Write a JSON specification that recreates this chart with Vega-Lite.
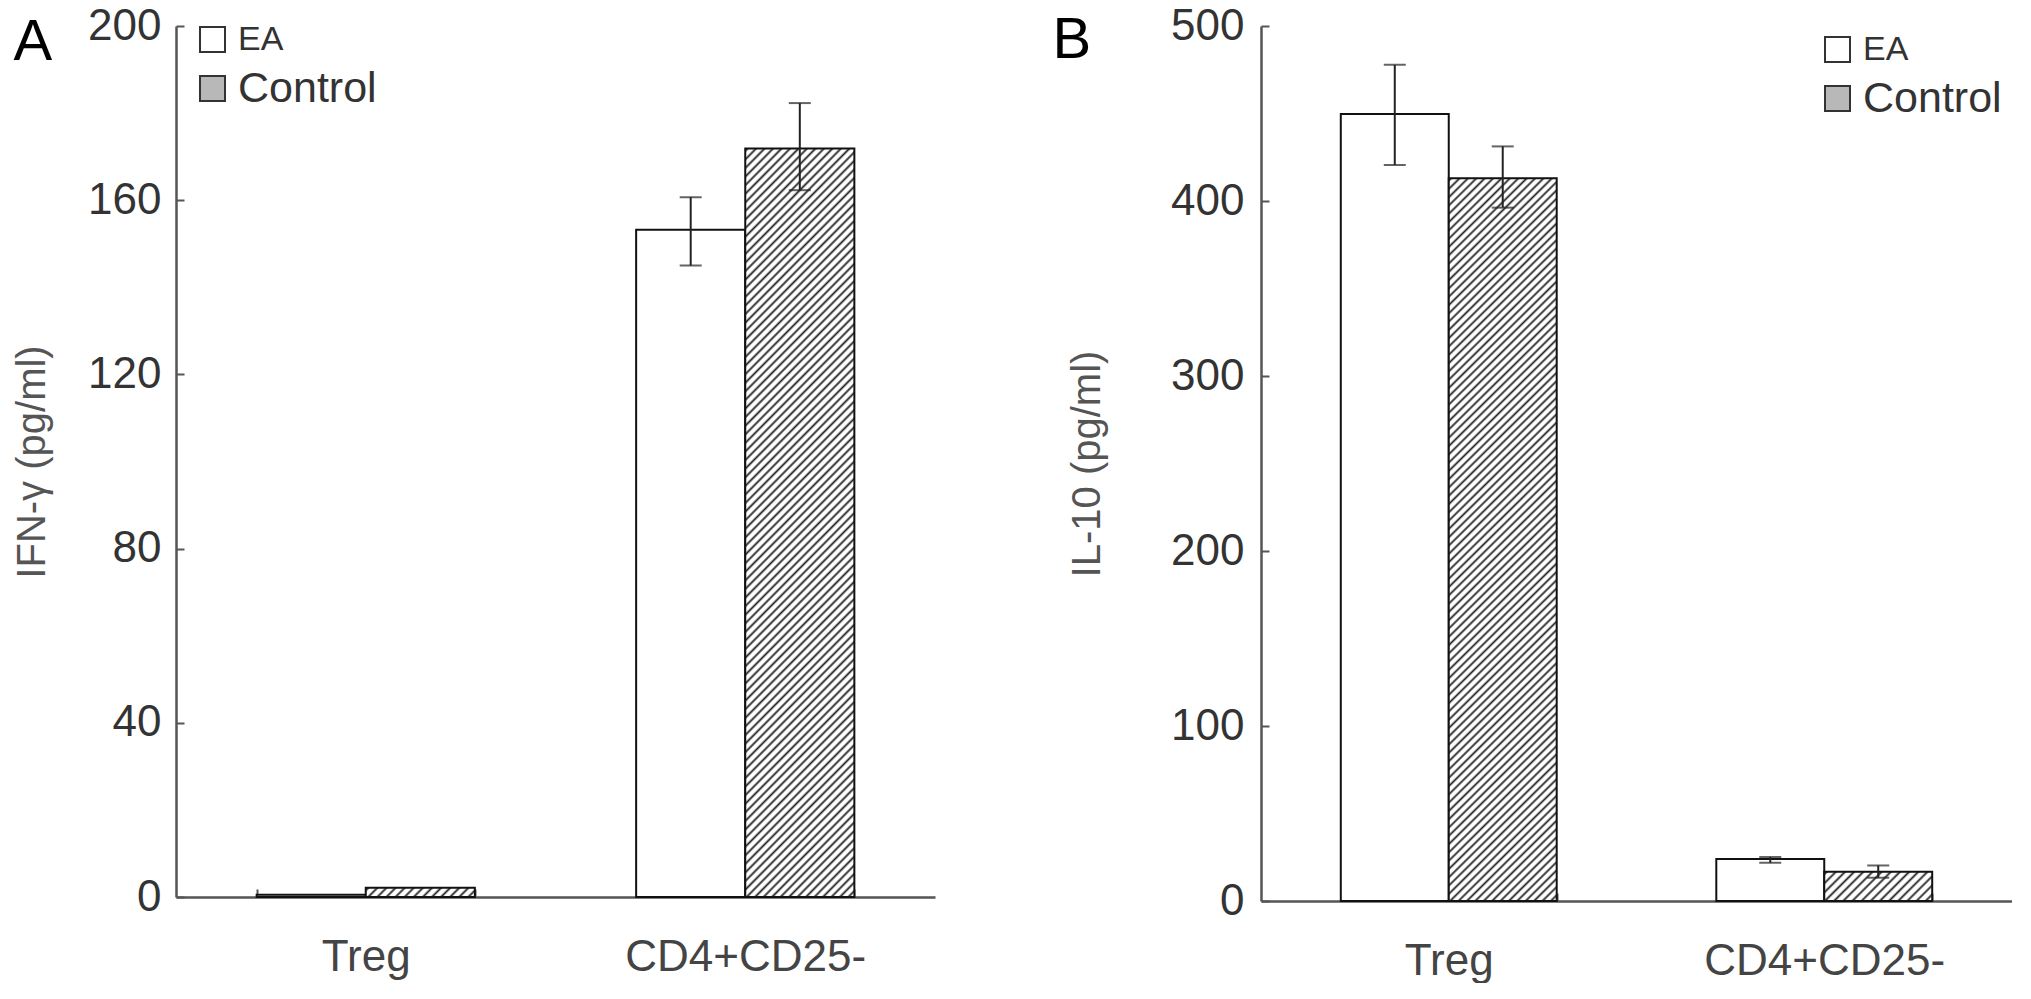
{
"$schema": "https://vega.github.io/schema/vega-lite/v6.json",
"background": "white",
"padding": {"left": 12, "top": 4, "right": 0, "bottom": 0},
"spacing": 117,
"config": {
"view": {"stroke": null},
"font": "Liberation Sans"
},
"datasets": {
"ifn": [
{"cell": "Treg", "group": "EA", "value": 0.5, "lo": null, "hi": null},
{"cell": "Treg", "group": "Control", "value": 2.1, "lo": null, "hi": null},
{"cell": "CD4+CD25-", "group": "EA", "value": 153.2, "lo": 145.0, "hi": 160.7},
{"cell": "CD4+CD25-", "group": "Control", "value": 171.9, "lo": 162.3, "hi": 182.3}
],
"il10": [
{"cell": "Treg", "group": "EA", "value": 449.7, "lo": 420.6, "hi": 477.8},
{"cell": "Treg", "group": "Control", "value": 413.0, "lo": 396.2, "hi": 431.2},
{"cell": "CD4+CD25-", "group": "EA", "value": 24.0, "lo": 21.8, "hi": 25.2},
{"cell": "CD4+CD25-", "group": "Control", "value": 16.7, "lo": 13.3, "hi": 20.3}
]
},
"resolve": {"scale": {"x": "independent", "y": "independent", "xOffset": "independent", "fill": "independent"}, "legend": {"fill": "independent"}},
"hconcat": [
{
"width": 759, "height": 871,
"data": {"name": "ifn"},
"encoding": {
"x": {"field": "cell", "type": "nominal", "sort": ["Treg", "CD4+CD25-"], "scale": {"domain": ["Treg", "CD4+CD25-"], "paddingInner": 0.425, "paddingOuter": 0.2125},
"axis": {"title": "A", "titleX": -163, "titleY": -838, "titleAlign": "left", "titleBaseline": "alphabetic", "titleFontSize": 58, "titleFontWeight": "normal", "titleColor": "#000", "tickBand": "extent", "labelAngle": 0, "labelLimit": 500, "labelFontSize": 44, "labelColor": "#444", "labelPadding": 46, "tickSize": -8, "tickColor": "#555", "tickWidth": 2, "domainColor": "#555", "domainWidth": 2.5}},
"xOffset": {"field": "group", "type": "nominal", "sort": ["EA", "Control"], "scale": {"domain": ["EA", "Control"], "paddingInner": 0, "paddingOuter": 0}}
},
"layer": [
{"transform": [{"filter": "datum.group === 'EA'"}],
"mark": {"type": "bar", "stroke": "#111", "strokeWidth": 2},
"encoding": {
"y": {"field": "value", "type": "quantitative", "scale": {"domain": [0, 200], "nice": false},
"axis": {"title": "IFN-γ (pg/ml)", "values": [0, 40, 80, 120, 160, 200], "grid": false, "labelFontSize": 44, "labelColor": "#333", "labelPadding": 23, "tickSize": -8, "tickColor": "#555", "tickWidth": 2, "domainColor": "#555", "domainWidth": 2.5, "titleFontSize": 40, "titleColor": "#555", "titleFontWeight": "normal", "titleX": -144, "titleBaseline": "middle"}},
"fill": {"field": "group", "type": "nominal", "scale": {"domain": ["EA", "Control"], "range": ["#ffffff", "#b8b8b8"]},
"legend": {"title": null, "orient": "top-left", "offset": 0, "padding": 0, "symbolType": "square", "symbolSize": 625, "symbolStrokeColor": "#333", "symbolStrokeWidth": 2, "symbolOffset": 23, "labelOffset": 12, "labelFontSize": 38, "labelColor": "#333", "rowPadding": 10,
"encode": {"symbols": {"update": {"stroke": {"value": "#333"}, "fill": [{"test": "datum.value === 'Control'", "value": {"gradient": "linear", "x1": 0, "y1": 0, "x2": 1, "y2": 1, "stops": [{"offset":0,"color":"#fff"},{"offset":0.1,"color":"#fff"},{"offset":0.15,"color":"#222"},{"offset":0.2,"color":"#fff"},{"offset":0.3,"color":"#fff"},{"offset":0.35,"color":"#222"},{"offset":0.4,"color":"#fff"},{"offset":0.5,"color":"#fff"},{"offset":0.55,"color":"#222"},{"offset":0.6,"color":"#fff"},{"offset":0.7,"color":"#fff"},{"offset":0.75,"color":"#222"},{"offset":0.8,"color":"#fff"},{"offset":0.9,"color":"#fff"},{"offset":0.95,"color":"#222"},{"offset":1,"color":"#fff"}]}}, {"value": "#ffffff"}]}},
"labels": {"update": {"fontSize": [{"test": "datum.value === 'Control'", "value": 43}, {"value": 34}]}}}}}
}},
{"transform": [{"filter": "datum.group === 'Control' && datum.cell === 'CD4+CD25-'"}],
"mark": {"type": "bar", "stroke": "#111", "strokeWidth": 2, "fill": {"gradient": "linear", "x1": 0, "y1": 0, "x2": 0.1658, "y2": 1.1231, "stops": [
{"offset":0,"color":"#fff"},{"offset":0.003,"color":"#222"},{"offset":0.006,"color":"#fff"},
{"offset":0.01,"color":"#fff"},{"offset":0.013,"color":"#222"},{"offset":0.016,"color":"#fff"},
{"offset":0.02,"color":"#fff"},{"offset":0.023,"color":"#222"},{"offset":0.026,"color":"#fff"},
{"offset":0.03,"color":"#fff"},{"offset":0.033,"color":"#222"},{"offset":0.036,"color":"#fff"},
{"offset":0.04,"color":"#fff"},{"offset":0.043,"color":"#222"},{"offset":0.046,"color":"#fff"},
{"offset":0.05,"color":"#fff"},{"offset":0.053,"color":"#222"},{"offset":0.056,"color":"#fff"},
{"offset":0.06,"color":"#fff"},{"offset":0.063,"color":"#222"},{"offset":0.066,"color":"#fff"},
{"offset":0.07,"color":"#fff"},{"offset":0.073,"color":"#222"},{"offset":0.076,"color":"#fff"},
{"offset":0.08,"color":"#fff"},{"offset":0.083,"color":"#222"},{"offset":0.086,"color":"#fff"},
{"offset":0.09,"color":"#fff"},{"offset":0.093,"color":"#222"},{"offset":0.096,"color":"#fff"},
{"offset":0.1,"color":"#fff"},{"offset":0.103,"color":"#222"},{"offset":0.106,"color":"#fff"},
{"offset":0.11,"color":"#fff"},{"offset":0.113,"color":"#222"},{"offset":0.116,"color":"#fff"},
{"offset":0.12,"color":"#fff"},{"offset":0.123,"color":"#222"},{"offset":0.126,"color":"#fff"},
{"offset":0.13,"color":"#fff"},{"offset":0.133,"color":"#222"},{"offset":0.136,"color":"#fff"},
{"offset":0.14,"color":"#fff"},{"offset":0.143,"color":"#222"},{"offset":0.146,"color":"#fff"},
{"offset":0.15,"color":"#fff"},{"offset":0.153,"color":"#222"},{"offset":0.156,"color":"#fff"},
{"offset":0.16,"color":"#fff"},{"offset":0.163,"color":"#222"},{"offset":0.166,"color":"#fff"},
{"offset":0.17,"color":"#fff"},{"offset":0.173,"color":"#222"},{"offset":0.176,"color":"#fff"},
{"offset":0.18,"color":"#fff"},{"offset":0.183,"color":"#222"},{"offset":0.186,"color":"#fff"},
{"offset":0.19,"color":"#fff"},{"offset":0.193,"color":"#222"},{"offset":0.196,"color":"#fff"},
{"offset":0.2,"color":"#fff"},{"offset":0.203,"color":"#222"},{"offset":0.206,"color":"#fff"},
{"offset":0.21,"color":"#fff"},{"offset":0.213,"color":"#222"},{"offset":0.216,"color":"#fff"},
{"offset":0.22,"color":"#fff"},{"offset":0.223,"color":"#222"},{"offset":0.226,"color":"#fff"},
{"offset":0.23,"color":"#fff"},{"offset":0.233,"color":"#222"},{"offset":0.236,"color":"#fff"},
{"offset":0.24,"color":"#fff"},{"offset":0.243,"color":"#222"},{"offset":0.246,"color":"#fff"},
{"offset":0.25,"color":"#fff"},{"offset":0.253,"color":"#222"},{"offset":0.256,"color":"#fff"},
{"offset":0.26,"color":"#fff"},{"offset":0.263,"color":"#222"},{"offset":0.266,"color":"#fff"},
{"offset":0.27,"color":"#fff"},{"offset":0.273,"color":"#222"},{"offset":0.276,"color":"#fff"},
{"offset":0.28,"color":"#fff"},{"offset":0.283,"color":"#222"},{"offset":0.286,"color":"#fff"},
{"offset":0.29,"color":"#fff"},{"offset":0.293,"color":"#222"},{"offset":0.296,"color":"#fff"},
{"offset":0.3,"color":"#fff"},{"offset":0.303,"color":"#222"},{"offset":0.306,"color":"#fff"},
{"offset":0.31,"color":"#fff"},{"offset":0.313,"color":"#222"},{"offset":0.316,"color":"#fff"},
{"offset":0.32,"color":"#fff"},{"offset":0.323,"color":"#222"},{"offset":0.326,"color":"#fff"},
{"offset":0.33,"color":"#fff"},{"offset":0.333,"color":"#222"},{"offset":0.336,"color":"#fff"},
{"offset":0.34,"color":"#fff"},{"offset":0.343,"color":"#222"},{"offset":0.346,"color":"#fff"},
{"offset":0.35,"color":"#fff"},{"offset":0.353,"color":"#222"},{"offset":0.356,"color":"#fff"},
{"offset":0.36,"color":"#fff"},{"offset":0.363,"color":"#222"},{"offset":0.366,"color":"#fff"},
{"offset":0.37,"color":"#fff"},{"offset":0.373,"color":"#222"},{"offset":0.376,"color":"#fff"},
{"offset":0.38,"color":"#fff"},{"offset":0.383,"color":"#222"},{"offset":0.386,"color":"#fff"},
{"offset":0.39,"color":"#fff"},{"offset":0.393,"color":"#222"},{"offset":0.396,"color":"#fff"},
{"offset":0.4,"color":"#fff"},{"offset":0.403,"color":"#222"},{"offset":0.406,"color":"#fff"},
{"offset":0.41,"color":"#fff"},{"offset":0.413,"color":"#222"},{"offset":0.416,"color":"#fff"},
{"offset":0.42,"color":"#fff"},{"offset":0.423,"color":"#222"},{"offset":0.426,"color":"#fff"},
{"offset":0.43,"color":"#fff"},{"offset":0.433,"color":"#222"},{"offset":0.436,"color":"#fff"},
{"offset":0.44,"color":"#fff"},{"offset":0.443,"color":"#222"},{"offset":0.446,"color":"#fff"},
{"offset":0.45,"color":"#fff"},{"offset":0.453,"color":"#222"},{"offset":0.456,"color":"#fff"},
{"offset":0.46,"color":"#fff"},{"offset":0.463,"color":"#222"},{"offset":0.466,"color":"#fff"},
{"offset":0.47,"color":"#fff"},{"offset":0.473,"color":"#222"},{"offset":0.476,"color":"#fff"},
{"offset":0.48,"color":"#fff"},{"offset":0.483,"color":"#222"},{"offset":0.486,"color":"#fff"},
{"offset":0.49,"color":"#fff"},{"offset":0.493,"color":"#222"},{"offset":0.496,"color":"#fff"},
{"offset":0.5,"color":"#fff"},{"offset":0.503,"color":"#222"},{"offset":0.506,"color":"#fff"},
{"offset":0.51,"color":"#fff"},{"offset":0.513,"color":"#222"},{"offset":0.516,"color":"#fff"},
{"offset":0.52,"color":"#fff"},{"offset":0.523,"color":"#222"},{"offset":0.526,"color":"#fff"},
{"offset":0.53,"color":"#fff"},{"offset":0.533,"color":"#222"},{"offset":0.536,"color":"#fff"},
{"offset":0.54,"color":"#fff"},{"offset":0.543,"color":"#222"},{"offset":0.546,"color":"#fff"},
{"offset":0.55,"color":"#fff"},{"offset":0.553,"color":"#222"},{"offset":0.556,"color":"#fff"},
{"offset":0.56,"color":"#fff"},{"offset":0.563,"color":"#222"},{"offset":0.566,"color":"#fff"},
{"offset":0.57,"color":"#fff"},{"offset":0.573,"color":"#222"},{"offset":0.576,"color":"#fff"},
{"offset":0.58,"color":"#fff"},{"offset":0.583,"color":"#222"},{"offset":0.586,"color":"#fff"},
{"offset":0.59,"color":"#fff"},{"offset":0.593,"color":"#222"},{"offset":0.596,"color":"#fff"},
{"offset":0.6,"color":"#fff"},{"offset":0.603,"color":"#222"},{"offset":0.606,"color":"#fff"},
{"offset":0.61,"color":"#fff"},{"offset":0.613,"color":"#222"},{"offset":0.616,"color":"#fff"},
{"offset":0.62,"color":"#fff"},{"offset":0.623,"color":"#222"},{"offset":0.626,"color":"#fff"},
{"offset":0.63,"color":"#fff"},{"offset":0.633,"color":"#222"},{"offset":0.636,"color":"#fff"},
{"offset":0.64,"color":"#fff"},{"offset":0.643,"color":"#222"},{"offset":0.646,"color":"#fff"},
{"offset":0.65,"color":"#fff"},{"offset":0.653,"color":"#222"},{"offset":0.656,"color":"#fff"},
{"offset":0.66,"color":"#fff"},{"offset":0.663,"color":"#222"},{"offset":0.666,"color":"#fff"},
{"offset":0.67,"color":"#fff"},{"offset":0.673,"color":"#222"},{"offset":0.676,"color":"#fff"},
{"offset":0.68,"color":"#fff"},{"offset":0.683,"color":"#222"},{"offset":0.686,"color":"#fff"},
{"offset":0.69,"color":"#fff"},{"offset":0.693,"color":"#222"},{"offset":0.696,"color":"#fff"},
{"offset":0.7,"color":"#fff"},{"offset":0.703,"color":"#222"},{"offset":0.706,"color":"#fff"},
{"offset":0.71,"color":"#fff"},{"offset":0.713,"color":"#222"},{"offset":0.716,"color":"#fff"},
{"offset":0.72,"color":"#fff"},{"offset":0.723,"color":"#222"},{"offset":0.726,"color":"#fff"},
{"offset":0.73,"color":"#fff"},{"offset":0.733,"color":"#222"},{"offset":0.736,"color":"#fff"},
{"offset":0.74,"color":"#fff"},{"offset":0.743,"color":"#222"},{"offset":0.746,"color":"#fff"},
{"offset":0.75,"color":"#fff"},{"offset":0.753,"color":"#222"},{"offset":0.756,"color":"#fff"},
{"offset":0.76,"color":"#fff"},{"offset":0.763,"color":"#222"},{"offset":0.766,"color":"#fff"},
{"offset":0.77,"color":"#fff"},{"offset":0.773,"color":"#222"},{"offset":0.776,"color":"#fff"},
{"offset":0.78,"color":"#fff"},{"offset":0.783,"color":"#222"},{"offset":0.786,"color":"#fff"},
{"offset":0.79,"color":"#fff"},{"offset":0.793,"color":"#222"},{"offset":0.796,"color":"#fff"},
{"offset":0.8,"color":"#fff"},{"offset":0.803,"color":"#222"},{"offset":0.806,"color":"#fff"},
{"offset":0.81,"color":"#fff"},{"offset":0.813,"color":"#222"},{"offset":0.816,"color":"#fff"},
{"offset":0.82,"color":"#fff"},{"offset":0.823,"color":"#222"},{"offset":0.826,"color":"#fff"},
{"offset":0.83,"color":"#fff"},{"offset":0.833,"color":"#222"},{"offset":0.836,"color":"#fff"},
{"offset":0.84,"color":"#fff"},{"offset":0.843,"color":"#222"},{"offset":0.846,"color":"#fff"},
{"offset":0.85,"color":"#fff"},{"offset":0.853,"color":"#222"},{"offset":0.856,"color":"#fff"},
{"offset":0.86,"color":"#fff"},{"offset":0.863,"color":"#222"},{"offset":0.866,"color":"#fff"},
{"offset":0.87,"color":"#fff"},{"offset":0.873,"color":"#222"},{"offset":0.876,"color":"#fff"},
{"offset":0.88,"color":"#fff"},{"offset":0.883,"color":"#222"},{"offset":0.886,"color":"#fff"},
{"offset":0.89,"color":"#fff"},{"offset":0.893,"color":"#222"},{"offset":0.896,"color":"#fff"},
{"offset":0.9,"color":"#fff"},{"offset":0.903,"color":"#222"},{"offset":0.906,"color":"#fff"},
{"offset":0.91,"color":"#fff"},{"offset":0.913,"color":"#222"},{"offset":0.916,"color":"#fff"},
{"offset":0.92,"color":"#fff"},{"offset":0.923,"color":"#222"},{"offset":0.926,"color":"#fff"},
{"offset":0.93,"color":"#fff"},{"offset":0.933,"color":"#222"},{"offset":0.936,"color":"#fff"},
{"offset":0.94,"color":"#fff"},{"offset":0.943,"color":"#222"},{"offset":0.946,"color":"#fff"},
{"offset":0.95,"color":"#fff"},{"offset":0.953,"color":"#222"},{"offset":0.956,"color":"#fff"},
{"offset":0.96,"color":"#fff"},{"offset":0.963,"color":"#222"},{"offset":0.966,"color":"#fff"},
{"offset":0.97,"color":"#fff"},{"offset":0.973,"color":"#222"},{"offset":0.976,"color":"#fff"},
{"offset":0.98,"color":"#fff"},{"offset":0.983,"color":"#222"},{"offset":0.986,"color":"#fff"},
{"offset":0.99,"color":"#fff"},{"offset":0.993,"color":"#222"},{"offset":0.996,"color":"#fff"},
{"offset":1,"color":"#fff"}]}},
"encoding": {"y": {"field": "value", "type": "quantitative"}}},
{"transform": [{"filter": "datum.group === 'Control' && datum.cell === 'Treg'"}],
"mark": {"type": "bar", "stroke": "#111", "strokeWidth": 2, "fill": {"gradient": "linear", "x1": 0, "y1": 0, "x2": 1.0765, "y2": 0.0905, "stops": [
{"offset":0,"color":"#fff"},{"offset":0.0215,"color":"#222"},{"offset":0.043,"color":"#fff"},
{"offset":0.0769,"color":"#fff"},{"offset":0.0984,"color":"#222"},{"offset":0.1199,"color":"#fff"},
{"offset":0.1538,"color":"#fff"},{"offset":0.1753,"color":"#222"},{"offset":0.1968,"color":"#fff"},
{"offset":0.2308,"color":"#fff"},{"offset":0.2523,"color":"#222"},{"offset":0.2738,"color":"#fff"},
{"offset":0.3077,"color":"#fff"},{"offset":0.3292,"color":"#222"},{"offset":0.3507,"color":"#fff"},
{"offset":0.3846,"color":"#fff"},{"offset":0.4061,"color":"#222"},{"offset":0.4276,"color":"#fff"},
{"offset":0.4615,"color":"#fff"},{"offset":0.483,"color":"#222"},{"offset":0.5045,"color":"#fff"},
{"offset":0.5385,"color":"#fff"},{"offset":0.56,"color":"#222"},{"offset":0.5815,"color":"#fff"},
{"offset":0.6154,"color":"#fff"},{"offset":0.6369,"color":"#222"},{"offset":0.6584,"color":"#fff"},
{"offset":0.6923,"color":"#fff"},{"offset":0.7138,"color":"#222"},{"offset":0.7353,"color":"#fff"},
{"offset":0.7692,"color":"#fff"},{"offset":0.7907,"color":"#222"},{"offset":0.8122,"color":"#fff"},
{"offset":0.8462,"color":"#fff"},{"offset":0.8677,"color":"#222"},{"offset":0.8892,"color":"#fff"},
{"offset":0.9231,"color":"#fff"},{"offset":0.9446,"color":"#222"},{"offset":0.9661,"color":"#fff"},
{"offset":1,"color":"#fff"}]}},
"encoding": {"y": {"field": "value", "type": "quantitative"}}},
{"transform": [{"filter": "isValid(datum.lo)"}],
"mark": {"type": "rule", "color": "#222", "strokeWidth": 2},
"encoding": {"y": {"field": "lo", "type": "quantitative"}, "y2": {"field": "hi"}}},
{"transform": [{"filter": "isValid(datum.lo)"}],
"mark": {"type": "tick", "color": "#222", "thickness": 2, "size": 22},
"encoding": {"y": {"field": "lo", "type": "quantitative"}}},
{"transform": [{"filter": "isValid(datum.hi)"}],
"mark": {"type": "tick", "color": "#222", "thickness": 2, "size": 22},
"encoding": {"y": {"field": "hi", "type": "quantitative"}}}
]
},
{
"width": 751, "height": 875,
"data": {"name": "il10"},
"encoding": {
"x": {"field": "cell", "type": "nominal", "sort": ["Treg", "CD4+CD25-"], "scale": {"domain": ["Treg", "CD4+CD25-"], "paddingInner": 0.425, "paddingOuter": 0.2125},
"axis": {"title": "B", "titleX": -209, "titleY": -844, "titleAlign": "left", "titleBaseline": "alphabetic", "titleFontSize": 58, "titleFontWeight": "normal", "titleColor": "#000", "tickBand": "extent", "labelAngle": 0, "labelLimit": 500, "labelFontSize": 44, "labelColor": "#444", "labelPadding": 46, "tickSize": -8, "tickColor": "#555", "tickWidth": 2, "domainColor": "#555", "domainWidth": 2.5}},
"xOffset": {"field": "group", "type": "nominal", "sort": ["EA", "Control"], "scale": {"domain": ["EA", "Control"], "paddingInner": 0, "paddingOuter": 0}}
},
"layer": [
{"transform": [{"filter": "datum.group === 'EA'"}],
"mark": {"type": "bar", "stroke": "#111", "strokeWidth": 2},
"encoding": {
"y": {"field": "value", "type": "quantitative", "scale": {"domain": [0, 500], "nice": false},
"axis": {"title": "IL-10 (pg/ml)", "values": [0, 100, 200, 300, 400, 500], "grid": false, "labelFontSize": 44, "labelColor": "#333", "labelPadding": 25, "tickSize": -8, "tickColor": "#555", "tickWidth": 2, "domainColor": "#555", "domainWidth": 2.5, "titleFontSize": 40, "titleColor": "#555", "titleFontWeight": "normal", "titleX": -174, "titleBaseline": "middle"}},
"fill": {"field": "group", "type": "nominal", "scale": {"domain": ["EA", "Control"], "range": ["#ffffff", "#b8b8b8"]},
"legend": {"title": null, "orient": "top-right", "offset": 10, "padding": 0, "symbolType": "square", "symbolSize": 625, "symbolStrokeColor": "#333", "symbolStrokeWidth": 2, "labelOffset": 12, "labelFontSize": 38, "labelColor": "#333", "rowPadding": 10,
"encode": {"symbols": {"update": {"stroke": {"value": "#333"}, "fill": [{"test": "datum.value === 'Control'", "value": {"gradient": "linear", "x1": 0, "y1": 0, "x2": 1, "y2": 1, "stops": [{"offset":0,"color":"#fff"},{"offset":0.1,"color":"#fff"},{"offset":0.15,"color":"#222"},{"offset":0.2,"color":"#fff"},{"offset":0.3,"color":"#fff"},{"offset":0.35,"color":"#222"},{"offset":0.4,"color":"#fff"},{"offset":0.5,"color":"#fff"},{"offset":0.55,"color":"#222"},{"offset":0.6,"color":"#fff"},{"offset":0.7,"color":"#fff"},{"offset":0.75,"color":"#222"},{"offset":0.8,"color":"#fff"},{"offset":0.9,"color":"#fff"},{"offset":0.95,"color":"#222"},{"offset":1,"color":"#fff"}]}}, {"value": "#ffffff"}]}},
"labels": {"update": {"fontSize": [{"test": "datum.value === 'Control'", "value": 43}, {"value": 34}]}}}}}
}},
{"transform": [{"filter": "datum.group === 'Control' && datum.cell === 'Treg'"}],
"mark": {"type": "bar", "stroke": "#111", "strokeWidth": 2, "fill": {"gradient": "linear", "x1": 0, "y1": 0, "x2": 0.1658, "y2": 1.1231, "stops": [
{"offset":0,"color":"#fff"},{"offset":0.003,"color":"#222"},{"offset":0.006,"color":"#fff"},
{"offset":0.01,"color":"#fff"},{"offset":0.013,"color":"#222"},{"offset":0.016,"color":"#fff"},
{"offset":0.02,"color":"#fff"},{"offset":0.023,"color":"#222"},{"offset":0.026,"color":"#fff"},
{"offset":0.03,"color":"#fff"},{"offset":0.033,"color":"#222"},{"offset":0.036,"color":"#fff"},
{"offset":0.04,"color":"#fff"},{"offset":0.043,"color":"#222"},{"offset":0.046,"color":"#fff"},
{"offset":0.05,"color":"#fff"},{"offset":0.053,"color":"#222"},{"offset":0.056,"color":"#fff"},
{"offset":0.06,"color":"#fff"},{"offset":0.063,"color":"#222"},{"offset":0.066,"color":"#fff"},
{"offset":0.07,"color":"#fff"},{"offset":0.073,"color":"#222"},{"offset":0.076,"color":"#fff"},
{"offset":0.08,"color":"#fff"},{"offset":0.083,"color":"#222"},{"offset":0.086,"color":"#fff"},
{"offset":0.09,"color":"#fff"},{"offset":0.093,"color":"#222"},{"offset":0.096,"color":"#fff"},
{"offset":0.1,"color":"#fff"},{"offset":0.103,"color":"#222"},{"offset":0.106,"color":"#fff"},
{"offset":0.11,"color":"#fff"},{"offset":0.113,"color":"#222"},{"offset":0.116,"color":"#fff"},
{"offset":0.12,"color":"#fff"},{"offset":0.123,"color":"#222"},{"offset":0.126,"color":"#fff"},
{"offset":0.13,"color":"#fff"},{"offset":0.133,"color":"#222"},{"offset":0.136,"color":"#fff"},
{"offset":0.14,"color":"#fff"},{"offset":0.143,"color":"#222"},{"offset":0.146,"color":"#fff"},
{"offset":0.15,"color":"#fff"},{"offset":0.153,"color":"#222"},{"offset":0.156,"color":"#fff"},
{"offset":0.16,"color":"#fff"},{"offset":0.163,"color":"#222"},{"offset":0.166,"color":"#fff"},
{"offset":0.17,"color":"#fff"},{"offset":0.173,"color":"#222"},{"offset":0.176,"color":"#fff"},
{"offset":0.18,"color":"#fff"},{"offset":0.183,"color":"#222"},{"offset":0.186,"color":"#fff"},
{"offset":0.19,"color":"#fff"},{"offset":0.193,"color":"#222"},{"offset":0.196,"color":"#fff"},
{"offset":0.2,"color":"#fff"},{"offset":0.203,"color":"#222"},{"offset":0.206,"color":"#fff"},
{"offset":0.21,"color":"#fff"},{"offset":0.213,"color":"#222"},{"offset":0.216,"color":"#fff"},
{"offset":0.22,"color":"#fff"},{"offset":0.223,"color":"#222"},{"offset":0.226,"color":"#fff"},
{"offset":0.23,"color":"#fff"},{"offset":0.233,"color":"#222"},{"offset":0.236,"color":"#fff"},
{"offset":0.24,"color":"#fff"},{"offset":0.243,"color":"#222"},{"offset":0.246,"color":"#fff"},
{"offset":0.25,"color":"#fff"},{"offset":0.253,"color":"#222"},{"offset":0.256,"color":"#fff"},
{"offset":0.26,"color":"#fff"},{"offset":0.263,"color":"#222"},{"offset":0.266,"color":"#fff"},
{"offset":0.27,"color":"#fff"},{"offset":0.273,"color":"#222"},{"offset":0.276,"color":"#fff"},
{"offset":0.28,"color":"#fff"},{"offset":0.283,"color":"#222"},{"offset":0.286,"color":"#fff"},
{"offset":0.29,"color":"#fff"},{"offset":0.293,"color":"#222"},{"offset":0.296,"color":"#fff"},
{"offset":0.3,"color":"#fff"},{"offset":0.303,"color":"#222"},{"offset":0.306,"color":"#fff"},
{"offset":0.31,"color":"#fff"},{"offset":0.313,"color":"#222"},{"offset":0.316,"color":"#fff"},
{"offset":0.32,"color":"#fff"},{"offset":0.323,"color":"#222"},{"offset":0.326,"color":"#fff"},
{"offset":0.33,"color":"#fff"},{"offset":0.333,"color":"#222"},{"offset":0.336,"color":"#fff"},
{"offset":0.34,"color":"#fff"},{"offset":0.343,"color":"#222"},{"offset":0.346,"color":"#fff"},
{"offset":0.35,"color":"#fff"},{"offset":0.353,"color":"#222"},{"offset":0.356,"color":"#fff"},
{"offset":0.36,"color":"#fff"},{"offset":0.363,"color":"#222"},{"offset":0.366,"color":"#fff"},
{"offset":0.37,"color":"#fff"},{"offset":0.373,"color":"#222"},{"offset":0.376,"color":"#fff"},
{"offset":0.38,"color":"#fff"},{"offset":0.383,"color":"#222"},{"offset":0.386,"color":"#fff"},
{"offset":0.39,"color":"#fff"},{"offset":0.393,"color":"#222"},{"offset":0.396,"color":"#fff"},
{"offset":0.4,"color":"#fff"},{"offset":0.403,"color":"#222"},{"offset":0.406,"color":"#fff"},
{"offset":0.41,"color":"#fff"},{"offset":0.413,"color":"#222"},{"offset":0.416,"color":"#fff"},
{"offset":0.42,"color":"#fff"},{"offset":0.423,"color":"#222"},{"offset":0.426,"color":"#fff"},
{"offset":0.43,"color":"#fff"},{"offset":0.433,"color":"#222"},{"offset":0.436,"color":"#fff"},
{"offset":0.44,"color":"#fff"},{"offset":0.443,"color":"#222"},{"offset":0.446,"color":"#fff"},
{"offset":0.45,"color":"#fff"},{"offset":0.453,"color":"#222"},{"offset":0.456,"color":"#fff"},
{"offset":0.46,"color":"#fff"},{"offset":0.463,"color":"#222"},{"offset":0.466,"color":"#fff"},
{"offset":0.47,"color":"#fff"},{"offset":0.473,"color":"#222"},{"offset":0.476,"color":"#fff"},
{"offset":0.48,"color":"#fff"},{"offset":0.483,"color":"#222"},{"offset":0.486,"color":"#fff"},
{"offset":0.49,"color":"#fff"},{"offset":0.493,"color":"#222"},{"offset":0.496,"color":"#fff"},
{"offset":0.5,"color":"#fff"},{"offset":0.503,"color":"#222"},{"offset":0.506,"color":"#fff"},
{"offset":0.51,"color":"#fff"},{"offset":0.513,"color":"#222"},{"offset":0.516,"color":"#fff"},
{"offset":0.52,"color":"#fff"},{"offset":0.523,"color":"#222"},{"offset":0.526,"color":"#fff"},
{"offset":0.53,"color":"#fff"},{"offset":0.533,"color":"#222"},{"offset":0.536,"color":"#fff"},
{"offset":0.54,"color":"#fff"},{"offset":0.543,"color":"#222"},{"offset":0.546,"color":"#fff"},
{"offset":0.55,"color":"#fff"},{"offset":0.553,"color":"#222"},{"offset":0.556,"color":"#fff"},
{"offset":0.56,"color":"#fff"},{"offset":0.563,"color":"#222"},{"offset":0.566,"color":"#fff"},
{"offset":0.57,"color":"#fff"},{"offset":0.573,"color":"#222"},{"offset":0.576,"color":"#fff"},
{"offset":0.58,"color":"#fff"},{"offset":0.583,"color":"#222"},{"offset":0.586,"color":"#fff"},
{"offset":0.59,"color":"#fff"},{"offset":0.593,"color":"#222"},{"offset":0.596,"color":"#fff"},
{"offset":0.6,"color":"#fff"},{"offset":0.603,"color":"#222"},{"offset":0.606,"color":"#fff"},
{"offset":0.61,"color":"#fff"},{"offset":0.613,"color":"#222"},{"offset":0.616,"color":"#fff"},
{"offset":0.62,"color":"#fff"},{"offset":0.623,"color":"#222"},{"offset":0.626,"color":"#fff"},
{"offset":0.63,"color":"#fff"},{"offset":0.633,"color":"#222"},{"offset":0.636,"color":"#fff"},
{"offset":0.64,"color":"#fff"},{"offset":0.643,"color":"#222"},{"offset":0.646,"color":"#fff"},
{"offset":0.65,"color":"#fff"},{"offset":0.653,"color":"#222"},{"offset":0.656,"color":"#fff"},
{"offset":0.66,"color":"#fff"},{"offset":0.663,"color":"#222"},{"offset":0.666,"color":"#fff"},
{"offset":0.67,"color":"#fff"},{"offset":0.673,"color":"#222"},{"offset":0.676,"color":"#fff"},
{"offset":0.68,"color":"#fff"},{"offset":0.683,"color":"#222"},{"offset":0.686,"color":"#fff"},
{"offset":0.69,"color":"#fff"},{"offset":0.693,"color":"#222"},{"offset":0.696,"color":"#fff"},
{"offset":0.7,"color":"#fff"},{"offset":0.703,"color":"#222"},{"offset":0.706,"color":"#fff"},
{"offset":0.71,"color":"#fff"},{"offset":0.713,"color":"#222"},{"offset":0.716,"color":"#fff"},
{"offset":0.72,"color":"#fff"},{"offset":0.723,"color":"#222"},{"offset":0.726,"color":"#fff"},
{"offset":0.73,"color":"#fff"},{"offset":0.733,"color":"#222"},{"offset":0.736,"color":"#fff"},
{"offset":0.74,"color":"#fff"},{"offset":0.743,"color":"#222"},{"offset":0.746,"color":"#fff"},
{"offset":0.75,"color":"#fff"},{"offset":0.753,"color":"#222"},{"offset":0.756,"color":"#fff"},
{"offset":0.76,"color":"#fff"},{"offset":0.763,"color":"#222"},{"offset":0.766,"color":"#fff"},
{"offset":0.77,"color":"#fff"},{"offset":0.773,"color":"#222"},{"offset":0.776,"color":"#fff"},
{"offset":0.78,"color":"#fff"},{"offset":0.783,"color":"#222"},{"offset":0.786,"color":"#fff"},
{"offset":0.79,"color":"#fff"},{"offset":0.793,"color":"#222"},{"offset":0.796,"color":"#fff"},
{"offset":0.8,"color":"#fff"},{"offset":0.803,"color":"#222"},{"offset":0.806,"color":"#fff"},
{"offset":0.81,"color":"#fff"},{"offset":0.813,"color":"#222"},{"offset":0.816,"color":"#fff"},
{"offset":0.82,"color":"#fff"},{"offset":0.823,"color":"#222"},{"offset":0.826,"color":"#fff"},
{"offset":0.83,"color":"#fff"},{"offset":0.833,"color":"#222"},{"offset":0.836,"color":"#fff"},
{"offset":0.84,"color":"#fff"},{"offset":0.843,"color":"#222"},{"offset":0.846,"color":"#fff"},
{"offset":0.85,"color":"#fff"},{"offset":0.853,"color":"#222"},{"offset":0.856,"color":"#fff"},
{"offset":0.86,"color":"#fff"},{"offset":0.863,"color":"#222"},{"offset":0.866,"color":"#fff"},
{"offset":0.87,"color":"#fff"},{"offset":0.873,"color":"#222"},{"offset":0.876,"color":"#fff"},
{"offset":0.88,"color":"#fff"},{"offset":0.883,"color":"#222"},{"offset":0.886,"color":"#fff"},
{"offset":0.89,"color":"#fff"},{"offset":0.893,"color":"#222"},{"offset":0.896,"color":"#fff"},
{"offset":0.9,"color":"#fff"},{"offset":0.903,"color":"#222"},{"offset":0.906,"color":"#fff"},
{"offset":0.91,"color":"#fff"},{"offset":0.913,"color":"#222"},{"offset":0.916,"color":"#fff"},
{"offset":0.92,"color":"#fff"},{"offset":0.923,"color":"#222"},{"offset":0.926,"color":"#fff"},
{"offset":0.93,"color":"#fff"},{"offset":0.933,"color":"#222"},{"offset":0.936,"color":"#fff"},
{"offset":0.94,"color":"#fff"},{"offset":0.943,"color":"#222"},{"offset":0.946,"color":"#fff"},
{"offset":0.95,"color":"#fff"},{"offset":0.953,"color":"#222"},{"offset":0.956,"color":"#fff"},
{"offset":0.96,"color":"#fff"},{"offset":0.963,"color":"#222"},{"offset":0.966,"color":"#fff"},
{"offset":0.97,"color":"#fff"},{"offset":0.973,"color":"#222"},{"offset":0.976,"color":"#fff"},
{"offset":0.98,"color":"#fff"},{"offset":0.983,"color":"#222"},{"offset":0.986,"color":"#fff"},
{"offset":0.99,"color":"#fff"},{"offset":0.993,"color":"#222"},{"offset":0.996,"color":"#fff"},
{"offset":1,"color":"#fff"}]}},
"encoding": {"y": {"field": "value", "type": "quantitative"}}},
{"transform": [{"filter": "datum.group === 'Control' && datum.cell === 'CD4+CD25-'"}],
"mark": {"type": "bar", "stroke": "#111", "strokeWidth": 2, "fill": {"gradient": "linear", "x1": 0, "y1": 0, "x2": 1.1846, "y2": 0.3225, "stops": [
{"offset":0,"color":"#fff"},{"offset":0.0185,"color":"#222"},{"offset":0.037,"color":"#fff"},
{"offset":0.0667,"color":"#fff"},{"offset":0.0852,"color":"#222"},{"offset":0.1037,"color":"#fff"},
{"offset":0.1333,"color":"#fff"},{"offset":0.1518,"color":"#222"},{"offset":0.1703,"color":"#fff"},
{"offset":0.2,"color":"#fff"},{"offset":0.2185,"color":"#222"},{"offset":0.237,"color":"#fff"},
{"offset":0.2667,"color":"#fff"},{"offset":0.2852,"color":"#222"},{"offset":0.3037,"color":"#fff"},
{"offset":0.3333,"color":"#fff"},{"offset":0.3518,"color":"#222"},{"offset":0.3703,"color":"#fff"},
{"offset":0.4,"color":"#fff"},{"offset":0.4185,"color":"#222"},{"offset":0.437,"color":"#fff"},
{"offset":0.4667,"color":"#fff"},{"offset":0.4852,"color":"#222"},{"offset":0.5037,"color":"#fff"},
{"offset":0.5333,"color":"#fff"},{"offset":0.5518,"color":"#222"},{"offset":0.5703,"color":"#fff"},
{"offset":0.6,"color":"#fff"},{"offset":0.6185,"color":"#222"},{"offset":0.637,"color":"#fff"},
{"offset":0.6667,"color":"#fff"},{"offset":0.6852,"color":"#222"},{"offset":0.7037,"color":"#fff"},
{"offset":0.7333,"color":"#fff"},{"offset":0.7518,"color":"#222"},{"offset":0.7703,"color":"#fff"},
{"offset":0.8,"color":"#fff"},{"offset":0.8185,"color":"#222"},{"offset":0.837,"color":"#fff"},
{"offset":0.8667,"color":"#fff"},{"offset":0.8852,"color":"#222"},{"offset":0.9037,"color":"#fff"},
{"offset":0.9333,"color":"#fff"},{"offset":0.9518,"color":"#222"},{"offset":0.9703,"color":"#fff"},
{"offset":1,"color":"#fff"}]}},
"encoding": {"y": {"field": "value", "type": "quantitative"}}},
{"transform": [{"filter": "isValid(datum.lo)"}],
"mark": {"type": "rule", "color": "#222", "strokeWidth": 2},
"encoding": {"y": {"field": "lo", "type": "quantitative"}, "y2": {"field": "hi"}}},
{"transform": [{"filter": "isValid(datum.lo)"}],
"mark": {"type": "tick", "color": "#222", "thickness": 2, "size": 22},
"encoding": {"y": {"field": "lo", "type": "quantitative"}}},
{"transform": [{"filter": "isValid(datum.hi)"}],
"mark": {"type": "tick", "color": "#222", "thickness": 2, "size": 22},
"encoding": {"y": {"field": "hi", "type": "quantitative"}}}
]
}
]
}
